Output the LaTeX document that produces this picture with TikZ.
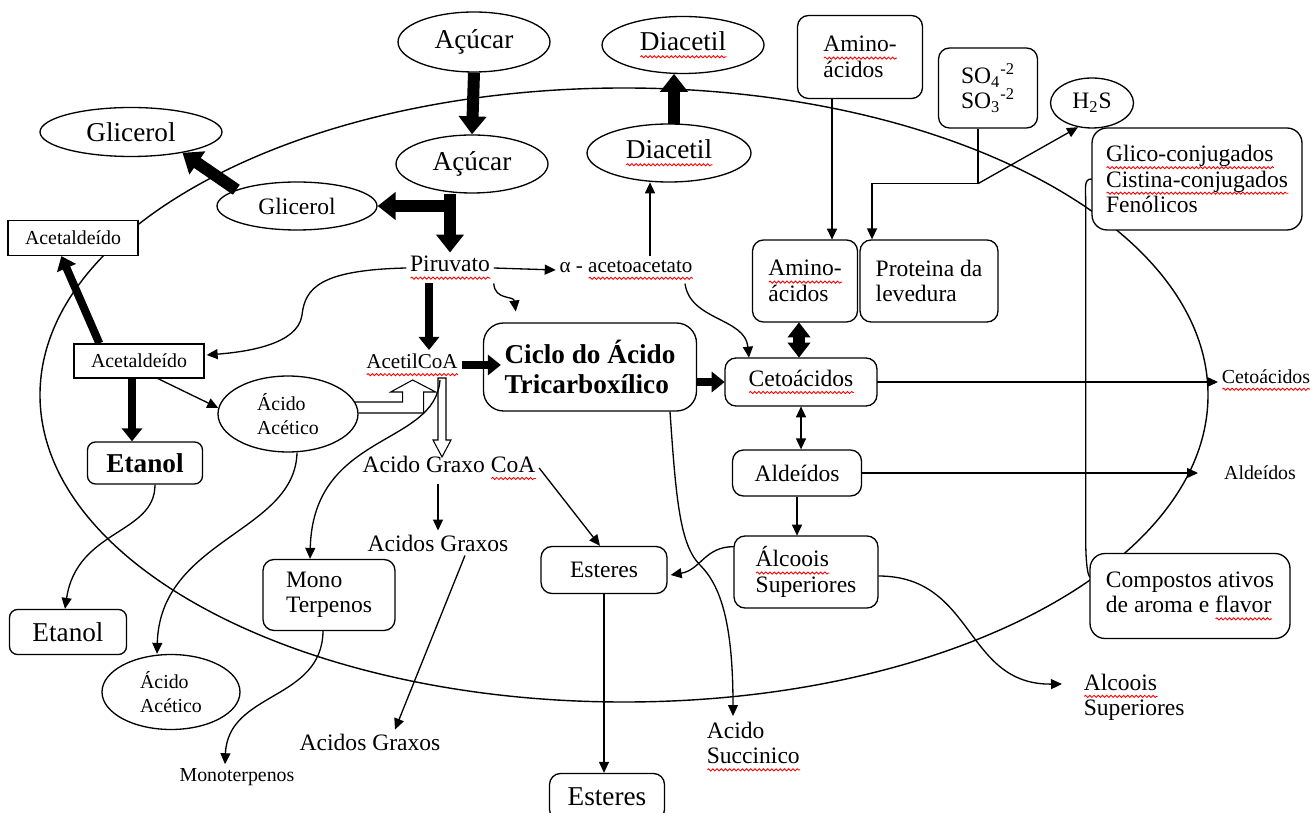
\documentclass[tikz,border=0pt]{standalone}
\usepackage{fontspec}
\setmainfont{Liberation Serif}
\usepackage{tikz}
\usetikzlibrary{shapes.geometric, arrows.meta}
\usetikzlibrary{calc}
\usetikzlibrary{decorations.pathmorphing}
%% red wavy underline (spell check marks)
\newsavebox\spellbox
\newlength\spellwd
\newcommand{\spell}[1]{\sbox\spellbox{#1}\setlength\spellwd{\wd\spellbox}\leavevmode
	\rlap{\tikz[baseline=0pt]\draw[red, line width=0.5pt, sharp corners, fill=none, decorate,
	decoration={snake, amplitude=0.6pt, segment length=2.4pt}] (0pt,-3.5pt) -- (\spellwd,-3.5pt);}%
	\usebox\spellbox}
\newcommand{\fbig}{\fontsize{15.5pt}{17pt}\selectfont}
\newcommand{\fmid}{\fontsize{13.4pt}{14.5pt}\selectfont}
\newcommand{\fmed}{\fontsize{12pt}{14pt}\selectfont}
\newcommand{\fsmall}{\fontsize{11.3pt}{13.5pt}\selectfont}
\tikzset{
every picture/.style={line width=0.75pt, x=0.02cm, y=-0.02cm},
%%%%%%%%%%  Node styles
oval/.style={ellipse, draw, fill=white, inner sep=1pt, align=left},
round_box/.style={draw, fill=white, rounded corners=0.22cm, align=left, inner sep=2pt},
square_box/.style={draw, fill=white, inner sep=2pt},
label_text/.style={inner sep=2pt, align=left},
%%%% arrow styles
thin_arrow/.style={-{Triangle[length=0.22cm,width=0.2cm]}},
thin_double/.style={{Triangle[length=0.22cm,width=0.2cm]}-{Triangle[length=0.22cm,width=0.2cm]}},
fat_arrow/.style={line width=0.24cm, -{Triangle[length=0.36cm,width=0.54cm]}},
med_arrow/.style={line width=0.16cm, -{Triangle[length=0.26cm,width=0.4cm]}},
fat_double/.style={line width=0.24cm, {Triangle[length=0.3cm,width=0.44cm]}-{Triangle[length=0.3cm,width=0.44cm]}},
hollow_arrow/.style={line width=0.6pt, line join=miter},
membrane/.style={line width=0.8pt}
}
\begin{document}
\begin{tikzpicture}
\useasboundingbox (0,0) rectangle (1310,813);
%% cell membrane
\draw[membrane] (624,395) ellipse [x radius=584, y radius=307];
%%%%%%%%%%%%%%%%%%%%%%%%%%%%%%%%%%%%%%%%%%%%%%
%% sugars, glycerol, diacetyl
\node[oval, minimum width=3.04cm, minimum height=1.2cm, font=\fbig] (acucar_out) at (474,42) {Açúcar};
\node[oval, minimum width=3.04cm, minimum height=1.16cm, font=\fbig] (acucar_in) at (472,164) {Açúcar};
\node[oval, minimum width=3.24cm, minimum height=1.14cm, font=\fbig] (diacetil_out) at (683,45) {\spell{Diacetil}};
\node[oval, minimum width=3.28cm, minimum height=1.16cm, font=\fbig] (diacetil_in) at (669,153) {\spell{Diacetil}};
\node[oval, minimum width=3.64cm, minimum height=0.98cm, font=\fbig] (glicerol_out) at (131,132) {Glicerol};
\node[oval, minimum width=3.2cm, minimum height=0.96cm, font=\fmid] (glicerol_in) at (297,206) {Glicerol};
%% left side
\node[square_box, minimum width=2.6cm, minimum height=0.7cm, font=\fsmall] (acetal_out) at (73,238) {Acetaldeído};
\node[square_box, minimum width=2.6cm, minimum height=0.68cm, font=\fsmall] (acetal_in) at (139,361) {Acetaldeído};
\node[round_box, rounded corners=0.16cm, minimum width=2.3cm, minimum height=0.84cm, font=\fbig\bfseries] (etanol_in) at (145,463) {Etanol};
\node[round_box, rounded corners=0.16cm, minimum width=2.34cm, minimum height=0.9cm, font=\fbig] (etanol_out) at (68,632) {Etanol};
\node[oval, minimum width=2.8cm, minimum height=1.52cm, font=\fsmall] (acetico_in) at (288,414) {Ácido\\Acético};
\node[oval, minimum width=2.76cm, minimum height=1.5cm, font=\fsmall] (acetico_out) at (171,692) {Ácido\\Acético};
%% middle
\node[label_text, font=\fmid] (piruvato) at (450,268) {\spell{Piruvato}};
\node[label_text, font=\fmed] (acetoacetato) at (626,270) {α - \spell{acetoacetato}};
\node[label_text, font=\fmed] (acetilcoa) at (412,365) {\spell{AcetilCoA}};
\node[round_box, rounded corners=0.4cm, minimum width=4.26cm, minimum height=1.76cm, font=\fbig\bfseries] (ciclo) at (590,367) {Ciclo do Ácido\\Tricarboxílico};
\node[label_text, font=\fmid] (graxo_coa) at (449,468) {Acido Graxo \spell{CoA}};
\node[label_text, font=\fmid] (graxos_in) at (438,543) {Acidos Graxos};
\node[label_text, font=\fmid] (graxos_out) at (370,742) {Acidos Graxos};
\node[round_box, minimum width=2.64cm, minimum height=1.42cm, font=\fmid] (mono) at (329,595) {Mono\\Terpenos};
\node[label_text, font=\fsmall] (monoterpenos) at (237,777) {Monoterpenos};
\node[round_box, minimum width=2.52cm, minimum height=0.94cm, font=\fmid] (esteres_in) at (604,570) {Esteres};
\node[round_box, minimum width=2.3cm, minimum height=0.94cm, font=\fbig] (esteres_out) at (607,797) {Esteres};
\node[label_text, font=\fmid, anchor=north west] (succinico) at (703,718) {Acido\\\spell{Succinico}};
%% right side
\node[round_box, minimum width=2.5cm, minimum height=1.66cm, font=\fmid] (amino_out) at (860,57) {\spell{Amino-}\\ácidos};
\node[round_box, minimum width=1.98cm, minimum height=1.6cm, font=\fmid] (sulfato) at (988,88) {SO\textsubscript{4}\textsuperscript{-2}\\SO\textsubscript{3}\textsuperscript{-2}};
\node[oval, minimum width=1.66cm, minimum height=1.0cm, font=\fmid] (h2s) at (1092,103) {H\textsubscript{2}S};
\node[round_box, rounded corners=0.3cm, minimum width=4.2cm, minimum height=2.04cm, font=\fmid] (glico) at (1197,179) {\spell{Glico-conjugados}\\\spell{Cistina-conjugados}\\Fenólicos};
\node[round_box, minimum width=2.1cm, minimum height=1.64cm, font=\fmid] (amino_in) at (805,281) {\spell{Amino-}\\ácidos};
\node[round_box, minimum width=2.76cm, minimum height=1.64cm, font=\fmid] (proteina) at (929,281) {Proteina da\\levedura};
\node[round_box, minimum width=3.04cm, minimum height=0.96cm, font=\fmid] (ceto_in) at (801,382) {\spell{Cetoácidos}};
\node[round_box, minimum width=2.58cm, minimum height=0.92cm, font=\fmid] (aldeidos_in) at (797,473) {Aldeídos};
\node[round_box, minimum width=2.88cm, minimum height=1.44cm, font=\fmid] (alcoois_in) at (806,572) {\spell{Álcoois}\\Superiores};
\node[round_box, rounded corners=0.3cm, minimum width=4.0cm, minimum height=1.7cm, font=\fmid] (compostos) at (1190,596) {Compostos ativos\\de aroma e \spell{flavor}};
\node[label_text, font=\fsmall, anchor=west] (ceto_out) at (1218,380) {\spell{Cetoácidos}};
\node[label_text, font=\fsmall, anchor=west] (aldeidos_out) at (1220,473) {Aldeídos};
\node[label_text, font=\fmid, anchor=north west] (alcoois_out) at (1080,670) {\spell{Alcoois}\\Superiores};
%%%%%%%%%%%%%%%%%%%%%%%%%%%%%%%%%%%%%%%%%%%%%%
%% start points of the straight arrows
\coordinate (etanol_start) at ($(acetal_in.south)+(-7,0)$);
\coordinate (acoa_start) at ($(piruvato.south)+(-21,0)$);
\coordinate (amino_start) at ($(amino_in.south)+(-6,0)$);
\coordinate (diac_start) at ($(acetoacetato.north)+(24,0)$);
\coordinate (graxos_start) at ($(graxo_coa.south)+(-11,0)$);
\coordinate (aminoout_start) at ($(amino_out.south)+(-28,0)$);
\coordinate (so_start) at ($(sulfato.south)+(-10,0)$);
\coordinate (so_bend) at ($(sulfato.south)+(-10,55)$);
\coordinate (prot_end) at ($(proteina.north)+(-57,0)$);
%% thick arrows
\draw[fat_arrow] (acucar_out.south) -- (acucar_in.north);
\draw[fat_arrow] (acucar_in.south -| piruvato.north) -- (piruvato.north);
\draw[fat_arrow] ($(piruvato.north |- glicerol_in.east)+(6,0)$) -- (glicerol_in.east);
\draw[fat_arrow] (glicerol_in.165) -- (glicerol_out.-22);
\draw[fat_arrow] ($(diacetil_in.north)+(5,0)$) -- ($(diacetil_out.south)+(-9,0)$);
\draw[med_arrow] ($(acetal_in.north west)+(26,0)$) -- ($(acetal_out.south west)+(54,0)$);
\draw[med_arrow] (etanol_start) -- (etanol_start |- etanol_in.north);
\draw[med_arrow] (acoa_start) -- (acoa_start |- acetilcoa.north);
\draw[med_arrow] (acetilcoa.east) -- ($(acetilcoa.east -| ciclo.west)+(18,0)$);
\draw[med_arrow] (ciclo.east |- ceto_in.west) -- (ceto_in.west);
\draw[fat_double] (amino_start) -- (amino_start |- ceto_in.north);
%% hollow arrows
\draw[hollow_arrow, shift={(acetico_in.east)}] (-4,-12) -- (44,-12) -- (44,-22) -- (32,-22)
	-- (54,-34) -- (77,-22) -- (65,-22) -- (65,-1) -- (0,-1);
\draw[hollow_arrow, shift={(acetilcoa.south)}] (26,-2) -- (26,60) -- (21,60) -- (30,77)
	-- (39,60) -- (34,60) -- (34,-2) -- cycle;
%% thin arrows, left and middle
\draw[thin_arrow] (piruvato.east) -- (acetoacetato.west);
\draw[thin_arrow] (diac_start) -- (diac_start |- diacetil_in.south);
\draw[thin_arrow] (piruvato.south east)
	.. controls +(1,17) and +(-2,-16) .. ($(piruvato.south east)+(22,28)$);
\draw[thin_arrow] (piruvato.west)
	.. controls (320,270) and (305,288) .. (302,315)
	.. controls (298,345) and (245,352) .. ($(acetal_in.east)+(2,-6)$);
\draw[thin_arrow] ($(acetal_in.south)+(19,0)$) -- (acetico_in.175);
\draw[thin_arrow] ($(etanol_in.south)+(10,0)$)
	.. controls +(0,50) and +(12,-80) .. ($(etanol_out.north)+(-3,0)$);
\draw[thin_arrow] ($(acetico_in.south)+(9,0)$)
	.. controls +(-2,80) and +(3,-115) .. ($(acetico_out.north)+(-14,0)$);
\draw[thin_arrow] ($(acetilcoa.south)+(28,0)$)
	.. controls +(-5,67) and +(3,-127) .. ($(mono.north)+(-19,0)$);
\draw[thin_arrow] (graxo_coa.east) -- ($(esteres_in.north)+(-4,0)$);
\draw[thin_arrow] (graxos_start) -- (graxos_start |- graxos_in.north);
\draw[thin_arrow] ($(graxos_in.south)+(27,0)$) -- ($(graxos_out.north)+(25,0)$);
\draw[thin_arrow] (esteres_in.south) -- (esteres_in.south |- esteres_out.north);
\draw[thin_arrow] ($(mono.south)+(-6,0)$)
	.. controls +(-1,70) and +(3,-73) .. ($(monoterpenos.north)+(-12,0)$);
\draw[thin_arrow] ($(ciclo.south)+(80,0)$)
	.. controls +(6,88) and +(-20,-20) .. (700,565)
	.. controls +(20,20) and +(0,-95) .. ($(succinico.north west)+(30,-2)$);
%% thin arrows, right side
\draw[thin_arrow] ($(acetoacetato.south)+(59,0)$)
	.. controls +(5,37) and +(-4,-40) .. ($(ceto_in.north)+(-52,0)$);
\draw[thin_arrow] (aminoout_start) -- (aminoout_start |- amino_in.north);
\draw (so_start) -- (so_bend);
\draw[thin_arrow] (so_bend) -| (prot_end);
\draw[thin_arrow] (so_bend) -- (h2s.-120);
\draw[thin_arrow] (ceto_in.east) -- (ceto_in.east -| ceto_out.west);
\draw[thin_arrow] (aldeidos_in.east) -- ($(aldeidos_in.east -| aldeidos_out.west)+(-22,0)$);
\draw[thin_double] (ceto_in.south) -- (ceto_in.south |- aldeidos_in.north);
\draw[thin_arrow] (aldeidos_in.south) -- (aldeidos_in.south |- alcoois_in.north);
\draw[thin_arrow] ($(alcoois_in.north west)+(0,11)$)
	.. controls +(-29,0) and +(30,-5) .. ($(esteres_in.east)+(3,5)$);
\draw[thin_arrow] ($(alcoois_in.east)+(0,4)$)
	.. controls +(97,0) and +(-98,1) .. ($(alcoois_out.north west)+(-18,14)$);
%% bracket between the aroma boxes
\draw (glico.west) .. controls +(-8,0) and +(0,-16) .. ($(glico.west)+(-6,24)$)
	-- ($(compostos.north west)+(-4,-16)$)
	.. controls +(0,18) and +(-3,-4) .. ($(compostos.north west)+(0,24)$);
\end{tikzpicture}
\end{document}
